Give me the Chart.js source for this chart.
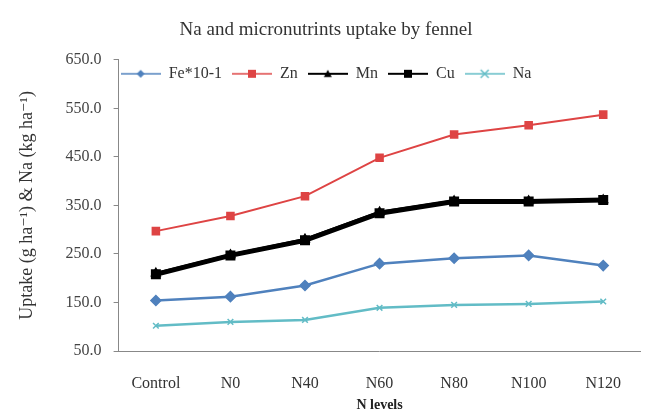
<!DOCTYPE html>
<html>
<head>
  <meta charset="UTF-8">
  <title>Na and micronutrints uptake by fennel</title>
  <style>
    html, body { margin: 0; padding: 0; background: #fff; }
    #wrap { width: 648px; height: 411px; position: relative; }
  </style>
</head>
<body>
<div id="wrap"><canvas id="chart" width="648" height="411"></canvas></div>

<script src="https://cdn.jsdelivr.net/npm/chart.js"></script>
<script>
const levels = ['Control', 'N0', 'N40', 'N60', 'N80', 'N100', 'N120'];
const fe = [154, 162, 185, 230, 241, 247, 226];
const zn = [297, 328, 369, 448, 496, 515, 537];
const mn = [210, 248, 280, 336, 359, 359, 361];
const cu = [208, 247, 278, 334, 358, 358, 361];
const na = [102, 110, 114, 139, 145, 147, 152];
const yTicks = [50, 150, 250, 350, 450, 550, 650];

const FONT = "'Liberation Serif', 'DejaVu Serif', serif";

// legend sample: a short line with the marker in the middle
function legendIcon(color, width, style, size) {
  const c = document.createElement('canvas');
  c.width = 40; c.height = 14;
  const g = c.getContext('2d');
  g.strokeStyle = color; g.fillStyle = color; g.lineWidth = width;
  g.beginPath(); g.moveTo(0, 7); g.lineTo(40, 7); g.stroke();
  g.lineWidth = 1.5;
  const x = 20, y = 7;
  g.beginPath();
  if (style === 'rectRot') {
    g.moveTo(x, y - size); g.lineTo(x + size, y); g.lineTo(x, y + size); g.lineTo(x - size, y); g.closePath(); g.fill();
  } else if (style === 'rect') {
    g.fillRect(x - size, y - size, size * 2, size * 2);
  } else if (style === 'triangle') {
    g.moveTo(x, y - size); g.lineTo(x + size, y + size * 0.8); g.lineTo(x - size, y + size * 0.8); g.closePath(); g.fill();
  } else if (style === 'crossRot') {
    g.moveTo(x - size, y - size); g.lineTo(x + size, y + size);
    g.moveTo(x + size, y - size); g.lineTo(x - size, y + size); g.stroke();
  }
  return c;
}

const series = [
  { label: 'Fe*10-1', data: fe, color: '#4f81bd', width: 2.5, style: 'rectRot', r: 5, lw: 1.5 },
  { label: 'Zn', data: zn, color: '#de4444', width: 2, style: 'rect', r: 5, lw: 1.5 },
  { label: 'Mn', data: mn, color: '#000000', width: 3, style: 'triangle', r: 5, lw: 2 },
  { label: 'Cu', data: cu, color: '#000000', width: 5, style: 'rect', r: 6, lw: 2 },
  { label: 'Na', data: na, color: '#62bcc6', width: 2.5, style: 'crossRot', r: 4, lw: 1.5 }
];

// the legend sits over the top of the plot, as in the original:
// it takes almost no room in the layout, then gets its full box back to draw
const legendOverlap = {
  id: 'legendOverlap',
  beforeLayout(chart) {
    const lg = chart.legend;
    if (lg && !lg._squashed) {
      const fit = lg.fit;
      lg.fit = function () { fit.call(this); this._fullHeight = this.height; this.height = 4; };
      lg._squashed = true;
    }
  },
  afterLayout(chart) {
    const lg = chart.legend;
    if (lg && lg._fullHeight) {
      lg.height = lg._fullHeight;
      lg.bottom = lg.top + lg._fullHeight;
    }
  }
};

new Chart(document.getElementById('chart'), {
  type: 'line',
  data: {
    labels: levels,
    datasets: series.map(s => ({
      label: s.label,
      data: s.data,
      borderColor: s.color,
      backgroundColor: s.color,
      borderWidth: s.width,
      pointStyle: s.style,
      pointRadius: s.r,
      pointBorderWidth: 1.5,
      tension: 0
    }))
  },
  plugins: [legendOverlap],
  options: {
    responsive: false,
    animation: false,
    layout: { padding: { left: 6, right: 2, top: 8, bottom: 0 } },
    plugins: {
      title: {
        display: true,
        text: 'Na and micronutrints uptake by fennel',
        font: { family: FONT, size: 19, weight: 'normal' },
        color: '#333',
        padding: { top: 11, bottom: 14 }
      },
      legend: {
        display: true,
        position: 'top',
        labels: {
          usePointStyle: true,
          pointStyleWidth: 40,
          boxHeight: 14,
          font: { family: FONT, size: 16 },
          color: '#333',
          padding: 10,
          generateLabels: function (chart) {
            return series.map((s, i) => ({
              text: s.label,
              pointStyle: legendIcon(s.color, s.lw, s.style, 4),
              fillStyle: s.color,
              strokeStyle: s.color,
              lineWidth: 0,
              hidden: false,
              datasetIndex: i,
              fontColor: '#333'
            }));
          }
        }
      },
      tooltip: { enabled: false }
    },
    scales: {
      x: {
        offset: true,
        grid: { display: false, drawTicks: false },
        border: { display: true, color: '#888', width: 1 },
        ticks: { font: { family: FONT, size: 16 }, color: '#333', padding: 23 },
        title: {
          display: true,
          text: 'N levels',
          font: { family: FONT, size: 14, weight: 'bold' },
          color: '#222',
          padding: { top: -19, bottom: -3 }
        }
      },
      y: {
        min: 50,
        max: 650,
        afterBuildTicks: axis => { axis.ticks = yTicks.map(v => ({ value: v })); },
        grid: { drawOnChartArea: false, drawTicks: true, tickLength: 5, color: '#888' },
        border: { display: true, color: '#888', width: 1 },
        ticks: {
          font: { family: FONT, size: 16 },
          color: '#444',
          padding: 12,
          callback: v => Number(v).toFixed(1)
        },
        title: {
          display: true,
          text: 'Uptake (g ha\u207B\u00B9) & Na (kg ha\u207B\u00B9)',
          font: { family: FONT, size: 18 },
          color: '#333',
          padding: { top: 10, bottom: 16 }
        }
      }
    }
  }
});
</script>
</body>
</html>
